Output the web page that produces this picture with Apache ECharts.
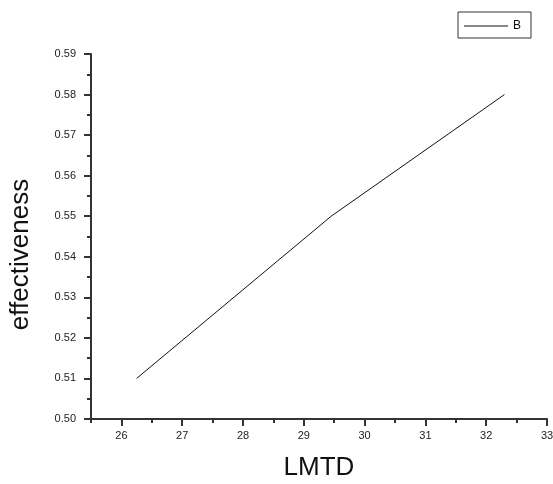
<!DOCTYPE html>
<html>
<head>
<meta charset="utf-8">
<script src="https://cdn.jsdelivr.net/npm/echarts@6/dist/echarts.min.js"></script>
<style>html,body{margin:0;padding:0;background:#fff;}#c{width:553px;height:484px;}</style>
</head>
<body>
<div id="c"></div>
<script>
var seriesName = 'B';
var lmtd = [26.25, 29.45, 32.3];
var effectiveness = [0.51, 0.55, 0.58];
var xTickLabels = [26, 27, 28, 29, 30, 31, 32, 33];
var yTickLabels = [0.50, 0.51, 0.52, 0.53, 0.54, 0.55, 0.56, 0.57, 0.58, 0.59];

var chart = echarts.init(document.getElementById('c'), null, {renderer: 'canvas'});
var axisColor = '#333';
var fontFamily = 'Arial, "Liberation Sans", sans-serif';
chart.setOption({
  animation: false,
  backgroundColor: '#fff',
  color: ['#111'],
  grid: {left: 91, right: 6, top: 54, bottom: 65, containLabel: false, outerBoundsMode: 'none'},
  legend: {
    show: true,
    left: 458, top: 12,
    padding: [8, 10, 6, 6],
    borderColor: '#333', borderWidth: 1,
    itemWidth: 44, itemHeight: 1, itemGap: 5,
    icon: 'rect',
    textStyle: {fontSize: 12, color: '#111', fontFamily: fontFamily},
    data: [seriesName]
  },
  xAxis: [{
    type: 'value', min: 25.5, max: 33, interval: 0.5,
    name: 'LMTD', nameLocation: 'middle', nameGap: 36,
    nameTextStyle: {fontSize: 26, color: '#111', fontFamily: fontFamily},
    axisLine: {show: true, lineStyle: {color: axisColor, width: 2}},
    axisTick: {show: true, length: 4, lineStyle: {color: axisColor, width: 2}},
    axisLabel: {customValues: xTickLabels, margin: 11, fontSize: 11, color: '#222', fontFamily: fontFamily},
    splitLine: {show: false}
  }, {
    type: 'value', min: 25.5, max: 33, position: 'bottom', gridIndex: 0,
    axisLine: {show: false},
    axisTick: {show: true, customValues: xTickLabels, length: 7, lineStyle: {color: axisColor, width: 2}},
    axisLabel: {show: false},
    splitLine: {show: false}
  }],
  yAxis: {
    type: 'value', min: 0.5, max: 0.59, interval: 0.01,
    name: 'effectiveness', nameLocation: 'middle', nameGap: 57, nameRotate: 90,
    nameTextStyle: {fontSize: 26, color: '#111', fontFamily: fontFamily, padding: [0, 36, 0, 0]},
    axisLine: {show: true, lineStyle: {color: axisColor, width: 2}},
    axisTick: {show: true, length: 7, lineStyle: {color: axisColor, width: 2}},
    minorTick: {show: true, splitNumber: 2, length: 4, lineStyle: {color: axisColor, width: 2}},
    axisLabel: {margin: 15, fontSize: 11, color: '#222', fontFamily: fontFamily,
      formatter: function (v) { return v.toFixed(2); }},
    splitLine: {show: false}
  },
  series: [{
    name: seriesName, type: 'line', xAxisIndex: 0,
    data: lmtd.map(function (x, i) { return [x, effectiveness[i]]; }),
    symbol: 'none', showSymbol: false,
    itemStyle: {color: '#111'},
    lineStyle: {color: '#111', width: 1}
  }]
});
</script>
</body>
</html>
